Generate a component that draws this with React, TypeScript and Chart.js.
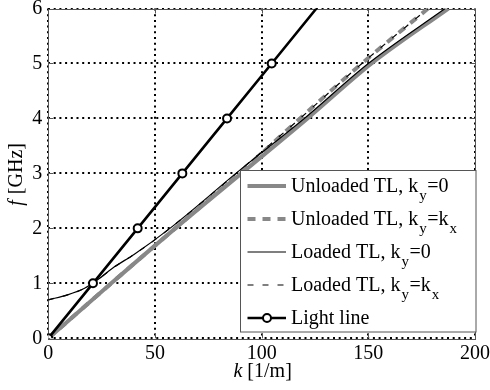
import { useEffect, useRef } from 'react';
import { Chart, registerables } from 'chart.js';

Chart.register(...registerables);

// ---- Data ----
const kUnloaded0 = [0, 29.5, 59.5, 90.5, 121.5, 151.5, 187.5];
const fUnloaded0 = [0, 1, 2, 3, 4, 5, 6];

const kUnloadedKx = [0, 29.5, 59.5, 89.5, 118, 147, 178];
const fUnloadedKx = [0, 1, 2, 3, 4, 5, 6];

const kLoaded0 = [0, 9, 17, 23, 31, 40, 57, 89.5, 120, 150, 186];
const fLoaded0 = [0.7, 0.79, 0.91, 1.06, 1.3, 1.52, 2.0, 3.05, 4.0, 5.0, 6.0];

const kLoadedKx = [0, 9, 17, 23, 31, 40, 57, 89, 118, 147, 178];
const fLoadedKx = [0.7, 0.79, 0.91, 1.06, 1.3, 1.52, 2.0, 3.03, 4.0, 5.0, 6.0];

const kLight = [0, 20.94, 41.89, 62.83, 83.78, 104.72, 125.66];
const fLight = [0, 1, 2, 3, 4, 5, 6];

const legendLabels = [
  'Unloaded TL, k_y=0',
  'Unloaded TL, k_y=k_x',
  'Loaded TL, k_y=0',
  'Loaded TL, k_y=k_x',
  'Light line',
];
const xTitleItalic = 'k';
const xTitleRest = ' [1/m]';
const yTitleItalic = 'f';
const yTitleRest = ' [GHz]';

const X_MIN = 0, X_MAX = 200, X_STEP = 50;
const Y_MIN = 0, Y_MAX = 6, Y_STEP = 1;

// ---- Styles ----
const FONT = "'Liberation Serif', 'Times New Roman', serif";
const GRAY = '#888888';
const legendStyles = [
  { color: GRAY, width: 4, dash: [] as number[], marker: false },
  { color: GRAY, width: 4, dash: [8, 7], marker: false },
  { color: '#000', width: 1.2, dash: [] as number[], marker: false },
  { color: '#000', width: 1.2, dash: [6, 9], marker: false },
  { color: '#000', width: 2.5, dash: [] as number[], marker: true },
];

function pts(k: number[], f: number[]) {
  return k.map((x, i) => ({ x, y: f[i] }));
}

function drawRich(ctx: CanvasRenderingContext2D, text: string, x: number, y: number, size: number, subSize: number) {
  let cx = x;
  let i = 0;
  while (i < text.length) {
    if (text[i] === '_' && i + 1 < text.length) {
      ctx.font = `${subSize}px ${FONT}`;
      const c = text[i + 1];
      ctx.fillText(c, cx + 1, y + 8);
      cx += ctx.measureText(c).width + 1.5;
      i += 2;
    } else {
      let j = i;
      while (j < text.length && text[j] !== '_') j++;
      const seg = text.slice(i, j);
      ctx.font = `${size}px ${FONT}`;
      ctx.fillText(seg, cx, y);
      cx += ctx.measureText(seg).width;
      i = j;
    }
  }
}

const overlay = {
  id: 'overlay',
  beforeDatasetsDraw(chart: any) {
    const { ctx, chartArea: a, scales } = chart;
    ctx.save();
    ctx.strokeStyle = '#555';
    ctx.lineWidth = 1;
    ctx.setLineDash([]);
    ctx.strokeRect(Math.round(a.left) + 0.5, Math.round(a.top) + 0.5, Math.round(a.right - a.left), Math.round(a.bottom - a.top));
    ctx.beginPath();
    const tl = 5;
    for (let v = X_MIN + X_STEP; v < X_MAX; v += X_STEP) {
      const px = Math.round(scales.x.getPixelForValue(v)) + 0.5;
      ctx.moveTo(px, a.bottom); ctx.lineTo(px, a.bottom - tl);
      ctx.moveTo(px, a.top); ctx.lineTo(px, a.top + tl);
    }
    for (let v = Y_MIN + Y_STEP; v < Y_MAX; v += Y_STEP) {
      const py = Math.round(scales.y.getPixelForValue(v)) + 0.5;
      ctx.moveTo(a.left, py); ctx.lineTo(a.left + tl, py);
      ctx.moveTo(a.right, py); ctx.lineTo(a.right - tl, py);
    }
    ctx.stroke();
    ctx.restore();
  },
  afterDraw(chart: any) {
    const { ctx, chartArea: a } = chart;
    ctx.save();
    // Legend box
    const bw = 235.5, bh = 161.5;
    const bx = Math.round(a.right - bw) + 0.5;
    const by = Math.round(a.top + 161) + 0.5;
    ctx.fillStyle = '#fff';
    ctx.fillRect(bx, by, bw, bh);
    ctx.strokeStyle = '#555';
    ctx.lineWidth = 1;
    ctx.setLineDash([]);
    ctx.strokeRect(bx, by, bw, bh);
    ctx.textBaseline = 'alphabetic';
    ctx.textAlign = 'left';
    legendLabels.forEach((lab, i) => {
      const st = legendStyles[i];
      const base = by + 21.5 + i * 33;
      const ly = base - 6;
      ctx.strokeStyle = st.color;
      ctx.lineWidth = st.width;
      ctx.setLineDash(st.dash);
      ctx.beginPath();
      ctx.moveTo(bx + 7, ly);
      ctx.lineTo(bx + 45.5, ly);
      ctx.stroke();
      ctx.setLineDash([]);
      if (st.marker) {
        ctx.beginPath();
        ctx.arc(bx + 26.5, ly, 4, 0, Math.PI * 2);
        ctx.fillStyle = '#fff';
        ctx.fill();
        ctx.lineWidth = 2;
        ctx.strokeStyle = '#000';
        ctx.stroke();
      }
      ctx.fillStyle = '#000';
      drawRich(ctx, lab, bx + 50.5, base, 20, 15);
    });

    // X title
    ctx.fillStyle = '#000';
    ctx.font = `italic 20px ${FONT}`;
    const wI = ctx.measureText(xTitleItalic).width;
    ctx.font = `20px ${FONT}`;
    const wR = ctx.measureText(xTitleRest).width;
    const xc = (a.left + a.right) / 2 + 1;
    let sx = xc - (wI + wR) / 2;
    ctx.font = `italic 20px ${FONT}`;
    ctx.fillText(xTitleItalic, sx, 377);
    ctx.font = `20px ${FONT}`;
    ctx.fillText(xTitleRest, sx + wI, 377);

    // Y title
    ctx.translate(22, (a.top + a.bottom) / 2 + 1.5);
    ctx.rotate(-Math.PI / 2);
    ctx.font = `italic 20px ${FONT}`;
    const yI = ctx.measureText(yTitleItalic).width;
    ctx.font = `20px ${FONT}`;
    const yR = ctx.measureText(yTitleRest).width;
    const sy = -(yI + yR) / 2;
    ctx.font = `italic 20px ${FONT}`;
    ctx.fillText(yTitleItalic, sy, 0);
    ctx.font = `20px ${FONT}`;
    ctx.fillText(yTitleRest, sy + yI + 1, 0);
    ctx.restore();
  },
};

export default function App() {
  const ref = useRef<HTMLCanvasElement>(null);
  useEffect(() => {
    const curve = { showLine: true, pointRadius: 0, tension: 0, cubicInterpolationMode: 'monotone' as const, fill: false };
    const chart = new Chart(ref.current!, {
      type: 'scatter',
      data: {
        datasets: [
          {
            label: 'Light line',
            data: pts(kLight, fLight),
            showLine: true,
            borderColor: '#000',
            borderWidth: 2.6,
            pointRadius: kLight.map((_, i) => (i < kLight.length - 1 ? 4 : 0)),
            pointBackgroundColor: '#fff',
            pointBorderColor: '#000',
            pointBorderWidth: 2,
          },
          { ...curve, label: 'Loaded TL, ky=kx', data: pts(kLoadedKx, fLoadedKx), borderColor: '#000', borderWidth: 1.2, borderDash: [6, 9] },
          { ...curve, label: 'Loaded TL, ky=0', data: pts(kLoaded0, fLoaded0), borderColor: '#000', borderWidth: 1.2 },
          { ...curve, label: 'Unloaded TL, ky=kx', data: pts(kUnloadedKx, fUnloadedKx), borderColor: GRAY, borderWidth: 4, borderDash: [8, 7] },
          { ...curve, label: 'Unloaded TL, ky=0', data: pts(kUnloaded0, fUnloaded0), borderColor: GRAY, borderWidth: 4 },
        ],
      },
      options: {
        responsive: false,
        animation: false,
        devicePixelRatio: 1,
        layout: { padding: { left: 0, top: 8.5, right: 15, bottom: 0 } },
        plugins: { legend: { display: false }, tooltip: { enabled: false } },
        scales: {
          x: {
            type: 'linear',
            min: X_MIN,
            max: X_MAX,
            ticks: { stepSize: X_STEP, color: '#000', font: { family: FONT, size: 20 }, padding: 3, maxRotation: 0 },
            grid: { color: '#000', lineWidth: 2, drawTicks: false },
            border: { display: false, dash: [2, 3.7] },
            afterFit: (s: any) => { s.height = 51.7; s.paddingLeft = 0; s.paddingRight = 0; },
          },
          y: {
            type: 'linear',
            min: Y_MIN,
            max: Y_MAX,
            ticks: { stepSize: Y_STEP, color: '#000', font: { family: FONT, size: 20 }, padding: 6 },
            grid: { color: '#000', lineWidth: 2, drawTicks: false },
            border: { display: false, dash: [2, 3.7] },
            afterFit: (s: any) => { s.width = 48.3; s.paddingTop = 0; s.paddingBottom = 0; },
          },
        },
      },
      plugins: [overlay],
    });
    return () => chart.destroy();
  }, []);
  return (
    <div style={{ position: 'absolute', left: 0, top: 0, width: 490, height: 390 }}>
      <canvas ref={ref} width={490} height={390} style={{ display: 'block' }} />
    </div>
  );
}
